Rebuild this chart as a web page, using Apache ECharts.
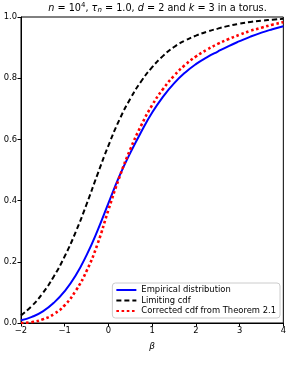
<!DOCTYPE html>
<html>
<head>
<meta charset="utf-8">
<script src="https://cdn.jsdelivr.net/npm/echarts@6/dist/echarts.min.js"></script>
<style>
html,body{margin:0;padding:0;background:#fff;}
#c{width:289px;height:365px;}
</style>
</head>
<body>
<div id="c"></div>
<script>
var beta = [-2,-1.75,-1.5,-1.25,-1,-0.75,-0.5,-0.25,0,0.25,0.5,0.75,1,1.25,1.5,1.75,2,2.25,2.5,2.75,3,3.25,3.5,3.75,4];
var empirical = [0.009,0.02,0.038,0.066,0.104,0.155,0.222,0.302,0.392,0.480,0.556,0.625,0.688,0.74,0.783,0.818,0.846,0.868,0.887,0.905,0.921,0.936,0.949,0.96,0.970];
var limiting = [0.025,0.056,0.098,0.152,0.218,0.297,0.388,0.486,0.58,0.664,0.733,0.79,0.836,0.873,0.902,0.923,0.939,0.952,0.962,0.971,0.978,0.984,0.988,0.991,0.994];
var corrected = [0.0,0.003,0.012,0.029,0.058,0.105,0.17,0.258,0.37,0.476,0.568,0.646,0.712,0.765,0.808,0.843,0.871,0.893,0.912,0.928,0.942,0.955,0.965,0.975,0.983];
var seriesNames = ['Empirical distribution','Limiting cdf','Corrected cdf from Theorem 2.1'];
var xTicks = [-2,-1,0,1,2,3,4];
var yTicks = [0,0.2,0.4,0.6,0.8,1.0];

function pairs(ys){ return beta.map(function(b,i){ return [b, ys[i]]; }); }
var FONT = 'DejaVu Sans';
var chart = echarts.init(document.getElementById('c'), null, {renderer:'canvas'});
chart.setOption({
  animation:false,
  backgroundColor:'#fff',
  title:{
    text:'{i|n} = 10{sup|4}, {i|τ}{sub|n} = 1.0, {i|d} = 2 and {i|k} = 3 in a torus.',
    left:152.5, textAlign:'center', top:-3,
    textStyle:{
      fontFamily:FONT, fontSize:9.7, fontWeight:'normal', color:'#000',
      rich:{
        i:{fontFamily:FONT, fontSize:9.7, fontStyle:'italic', color:'#000'},
        sup:{fontFamily:FONT, fontSize:7, color:'#000', verticalAlign:'top', lineHeight:12},
        sub:{fontFamily:FONT, fontSize:7, fontStyle:'italic', color:'#000', verticalAlign:'bottom', lineHeight:12}
      }
    }
  },
  grid:{left:21, right:5, top:17, bottom:42, show:true, borderColor:'#000', borderWidth:1, backgroundColor:'#fff'},
  legend:{
    data:seriesNames,
    orient:'vertical', right:9, bottom:47,
    itemWidth:20, itemHeight:8, itemGap:2.5,
    itemStyle:{opacity:0},
    backgroundColor:'rgba(255,255,255,0.8)', borderColor:'#ccc', borderWidth:1, borderRadius:3,
    padding:[3,4,3,3],
    textStyle:{fontFamily:FONT, fontSize:8.4, color:'#000'},
    selectedMode:false
  },
  xAxis:{
    type:'value', min:xTicks[0], max:xTicks[xTicks.length-1], interval:1,
    name:'β', nameLocation:'middle', nameGap:19,
    nameTextStyle:{fontFamily:FONT, fontSize:9, fontStyle:'italic', color:'#000'},
    axisLine:{show:true, onZero:false, lineStyle:{color:'#000', width:1}},
    axisTick:{show:true, inside:false, length:3.5, lineStyle:{color:'#000'}},
    axisLabel:{fontFamily:FONT, fontSize:8.4, color:'#000', margin:4,
      formatter:function(v){return String(v).replace('-','\u2212');}},
    splitLine:{show:false}
  },
  yAxis:{
    type:'value', min:yTicks[0], max:yTicks[yTicks.length-1], interval:0.2,
    axisLine:{show:true, onZero:false, lineStyle:{color:'#000', width:1}},
    axisTick:{show:true, inside:false, length:3.5, lineStyle:{color:'#000'}},
    axisLabel:{fontFamily:FONT, fontSize:8.4, color:'#000', margin:4,
      formatter:function(v){return v.toFixed(1);}},
    splitLine:{show:false}
  },
  series:[
    {name:seriesNames[0], type:'line', data:pairs(empirical), showSymbol:false, symbol:'none',
     smooth:true, lineStyle:{color:'#0000ff', width:2}, itemStyle:{color:'#0000ff'}},
    {name:seriesNames[1], type:'line', data:pairs(limiting), showSymbol:false, symbol:'none',
     smooth:true, lineStyle:{color:'#000000', width:2, type:[5,3]}, itemStyle:{color:'#000'}},
    {name:seriesNames[2], type:'line', data:pairs(corrected), showSymbol:false, symbol:'none',
     smooth:true, lineStyle:{color:'#ff0000', width:2.6, type:[2.6,2.6]}, itemStyle:{color:'#ff0000'}}
  ]
});
</script>
</body>
</html>
